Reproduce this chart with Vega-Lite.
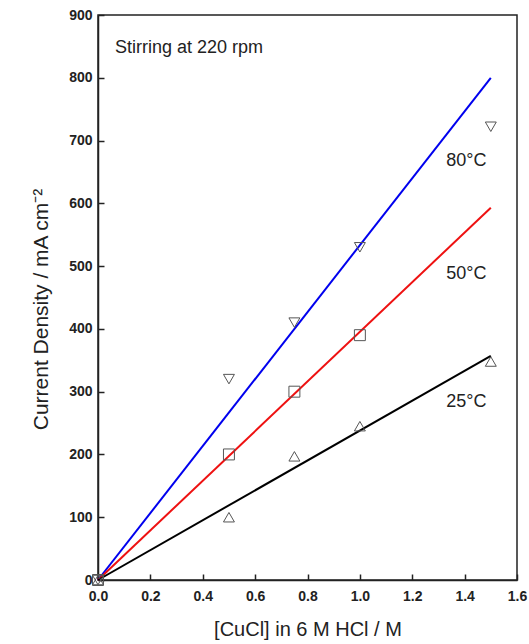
{
  "$schema": "https://vega.github.io/schema/vega-lite/v6.json",
  "autosize": "none",
  "padding": {"left": 98, "top": 15, "right": 12, "bottom": 64},
  "width": 419,
  "height": 565,
  "background": "white",
  "config": {
    "view": {"stroke": "#222", "strokeWidth": 1.5},
    "font": "Liberation Sans",
    "axis": {
      "domainColor": "#222", "domainWidth": 1.5,
      "tickColor": "#222", "tickWidth": 1.5, "tickSize": -6,
      "labelFont": "Liberation Sans", "labelFontSize": 14, "labelFontWeight": "bold", "labelColor": "#222",
      "labelFlush": false,
      "titleFont": "Liberation Sans", "titleFontSize": 20, "titleFontWeight": "normal", "titleColor": "#222",
      "grid": false
    }
  },
  "datasets": {
    "points": [
      {"series": "80°C", "x": 0, "y": 0},
      {"series": "80°C", "x": 0.5, "y": 320},
      {"series": "80°C", "x": 0.75, "y": 410},
      {"series": "80°C", "x": 1.0, "y": 530},
      {"series": "80°C", "x": 1.5, "y": 722},
      {"series": "50°C", "x": 0, "y": 0},
      {"series": "50°C", "x": 0.5, "y": 200},
      {"series": "50°C", "x": 0.75, "y": 300},
      {"series": "50°C", "x": 1.0, "y": 390},
      {"series": "25°C", "x": 0, "y": 0},
      {"series": "25°C", "x": 0.5, "y": 100},
      {"series": "25°C", "x": 0.75, "y": 197},
      {"series": "25°C", "x": 1.0, "y": 245},
      {"series": "25°C", "x": 1.5, "y": 348}
    ],
    "fits": [
      {"series": "80°C", "x": 0, "y": 0},
      {"series": "80°C", "x": 1.5, "y": 800},
      {"series": "50°C", "x": 0, "y": 0},
      {"series": "50°C", "x": 1.5, "y": 593},
      {"series": "25°C", "x": 0, "y": 0},
      {"series": "25°C", "x": 1.5, "y": 357}
    ],
    "labels": [
      {"text": "80°C", "x": 1.33, "y": 668},
      {"text": "50°C", "x": 1.33, "y": 487},
      {"text": "25°C", "x": 1.33, "y": 284},
      {"text": "Stirring at 220 rpm", "x": 0.065, "y": 848}
    ]
  },
  "encoding": {
    "x": {
      "field": "x", "type": "quantitative",
      "scale": {"domain": [0, 1.6], "nice": false},
      "axis": {"values": [0, 0.2, 0.4, 0.6, 0.8, 1.0, 1.2, 1.4, 1.6], "format": ".1f", "labelPadding": 15, "title": "[CuCl] in 6 M HCl / M", "titlePadding": 16}
    },
    "y": {
      "field": "y", "type": "quantitative",
      "scale": {"domain": [0, 900], "nice": false},
      "axis": {"values": [0, 100, 200, 300, 400, 500, 600, 700, 800, 900], "format": "d", "labelPadding": 12, "title": "Current Density / mA cm⁻²", "titlePadding": 17, "titleFontSize": 21, "titleY": 294}
    }
  },
  "layer": [
    {
      "data": {"name": "fits"},
      "mark": {"type": "line", "strokeWidth": 2},
      "encoding": {
        "color": {"field": "series", "type": "nominal", "scale": {"domain": ["80°C", "50°C", "25°C"], "range": ["#0000ee", "#ee1111", "#000000"]}, "legend": null}
      }
    },
    {
      "data": {"name": "points"},
      "mark": {"type": "point", "filled": false, "stroke": "#555", "strokeWidth": 1, "size": 120, "opacity": 1},
      "encoding": {
        "shape": {"field": "series", "type": "nominal", "scale": {"domain": ["80°C", "50°C", "25°C"], "range": ["triangle-down", "square", "triangle-up"]}, "legend": null}
      }
    },
    {
      "data": {"name": "labels"},
      "mark": {"type": "text", "align": "left", "baseline": "middle", "fontSize": 18, "color": "#222", "font": "Liberation Sans"},
      "encoding": {"text": {"field": "text", "type": "nominal"}}
    }
  ]
}
